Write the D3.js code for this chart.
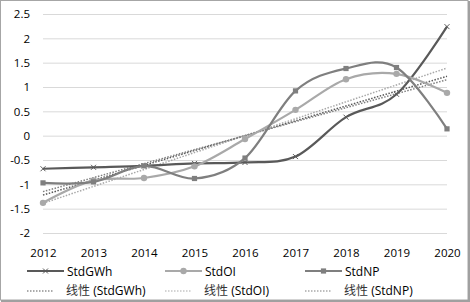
<!DOCTYPE html>
<html>
<head>
<meta charset="utf-8">
<script src="https://cdn.jsdelivr.net/npm/d3@7"></script>
<style>
  body { margin: 0; background: #fff; }
  svg { display: block; font-family: "Open Sans", sans-serif; }
</style>
</head>
<body>
<div id="chart"></div>
<script>
const years = ["2012", "2013", "2014", "2015", "2016", "2017", "2018", "2019", "2020"];
const yTicks = [2.5, 2, 1.5, 1, 0.5, 0, -0.5, -1, -1.5, -2];

const stdGWh = [-0.68, -0.65, -0.62, -0.57, -0.55, -0.43, 0.38, 0.85, 2.24];
const stdOI = [-1.38, -0.92, -0.87, -0.63, -0.07, 0.53, 1.16, 1.27, 0.88];
const stdNP = [-0.97, -0.95, -0.62, -0.88, -0.46, 0.92, 1.38, 1.40, 0.14];

// linear trend, value at first and last year
const trendGWh = [-1.22, 1.22];
const trendOI = [-1.39, 1.39];
const trendNP = [-1.15, 1.15];

const width = 470;
const height = 302;

const svg = d3.select("#chart").append("svg")
    .attr("width", width)
    .attr("height", height);

// outer frame
svg.append("rect")
    .attr("x", 0.5).attr("y", 0.5)
    .attr("width", 467.5).attr("height", 299.5)
    .attr("fill", "#fff")
    .attr("stroke", "#a6a6a6");
svg.append("line").attr("x1", 469).attr("x2", 469).attr("y1", 1).attr("y2", 302)
    .attr("stroke", "#a0a0a0").attr("stroke-width", 2);
svg.append("line").attr("x1", 1).attr("x2", 470).attr("y1", 301).attr("y2", 301)
    .attr("stroke", "#a0a0a0").attr("stroke-width", 2);

const x = d3.scalePoint().domain(years).range([43, 447]);
const y = d3.scaleLinear().domain([-2, 2.5]).range([233, 14]);

// gridlines + y labels
const yAxis = d3.axisLeft(y)
    .tickValues(yTicks)
    .tickSize(-(447 - 43))
    .tickPadding(13)
    .tickFormat(d => String(d));

const gy = svg.append("g")
    .attr("transform", "translate(43,0)")
    .call(yAxis);
gy.select(".domain").remove();
gy.selectAll(".tick line").attr("stroke", "#d9d9d9").attr("stroke-width", 1);
gy.selectAll(".tick text")
    .attr("fill", "#000")
    .style("font-size", "11.5px")
    .style("font-family", "Open Sans, sans-serif");

// x labels
const xAxis = d3.axisBottom(x).tickSize(0).tickPadding(14);
const gx = svg.append("g")
    .attr("transform", "translate(0,235)")
    .call(xAxis);
gx.select(".domain").remove();
gx.selectAll(".tick text")
    .attr("fill", "#000")
    .style("font-size", "11.5px")
    .style("font-family", "Open Sans, sans-serif");

const series = [
    { name: "StdGWh", values: stdGWh, trend: trendGWh, color: "#595959", marker: "x" },
    { name: "StdOI", values: stdOI, trend: trendOI, color: "#a9a9a9", marker: "circle" },
    { name: "StdNP", values: stdNP, trend: trendNP, color: "#7f7f7f", marker: "square" }
];

const line = d3.line()
    .x((d, i) => x(years[i]))
    .y(d => y(d))
    .curve(d3.curveCatmullRom.alpha(0));

function drawMarker(g, type, cx, cy, color) {
    if (type === "x") {
        g.append("path")
            .attr("d", `M${cx - 2.5},${cy - 2.5}L${cx + 2.5},${cy + 2.5}M${cx - 2.5},${cy + 2.5}L${cx + 2.5},${cy - 2.5}`)
            .attr("stroke", color).attr("stroke-width", 1).attr("fill", "none");
    } else if (type === "circle") {
        g.append("circle").attr("cx", cx).attr("cy", cy).attr("r", 3.2).attr("fill", color);
    } else {
        g.append("rect").attr("x", cx - 2.6).attr("y", cy - 2.6)
            .attr("width", 5.2).attr("height", 5.2).attr("fill", color);
    }
}

// trend lines
series.forEach(s => {
    svg.append("line")
        .attr("x1", x(years[0])).attr("y1", y(s.trend[0]))
        .attr("x2", x(years[years.length - 1])).attr("y2", y(s.trend[1]))
        .attr("stroke", s.color)
        .attr("stroke-width", 1.5)
        .attr("stroke-dasharray", "1.5,1.5");
});

// series lines
series.forEach(s => {
    const g = svg.append("g");
    g.append("path")
        .datum(s.values)
        .attr("d", line)
        .attr("fill", "none")
        .attr("stroke", s.color)
        .attr("stroke-width", 2.2);
    s.values.forEach((v, i) => drawMarker(g, s.marker, x(years[i]), y(v), s.color));
});

// legend
const legendX = [27, 165, 305];
series.forEach((s, i) => {
    const lx = legendX[i];
    const g = svg.append("g");
    g.append("line")
        .attr("x1", lx).attr("x2", lx + 37)
        .attr("y1", 271).attr("y2", 271)
        .attr("stroke", s.color).attr("stroke-width", 2.2);
    drawMarker(g, s.marker, lx + 18.5, 271, s.color);
    g.append("text")
        .attr("x", lx + 40).attr("y", 272)
        .attr("dy", "0.35em")
        .style("font-size", "12px")
        .text(s.name);

    g.append("line")
        .attr("x1", lx).attr("x2", lx + 27)
        .attr("y1", 291).attr("y2", 291)
        .attr("stroke", s.color).attr("stroke-width", 1.2)
        .attr("stroke-dasharray", "1.5,1.5");
    const t = g.append("text")
        .attr("x", lx + 39).attr("y", 291)
        .attr("dy", "0.35em")
        .style("font-size", "12px");
    t.append("tspan").style("font-family", "Noto Sans CJK SC").attr("fill", "#333").text("线性");
    t.append("tspan").text(" (" + s.name + ")");
});
</script>
</body>
</html>
